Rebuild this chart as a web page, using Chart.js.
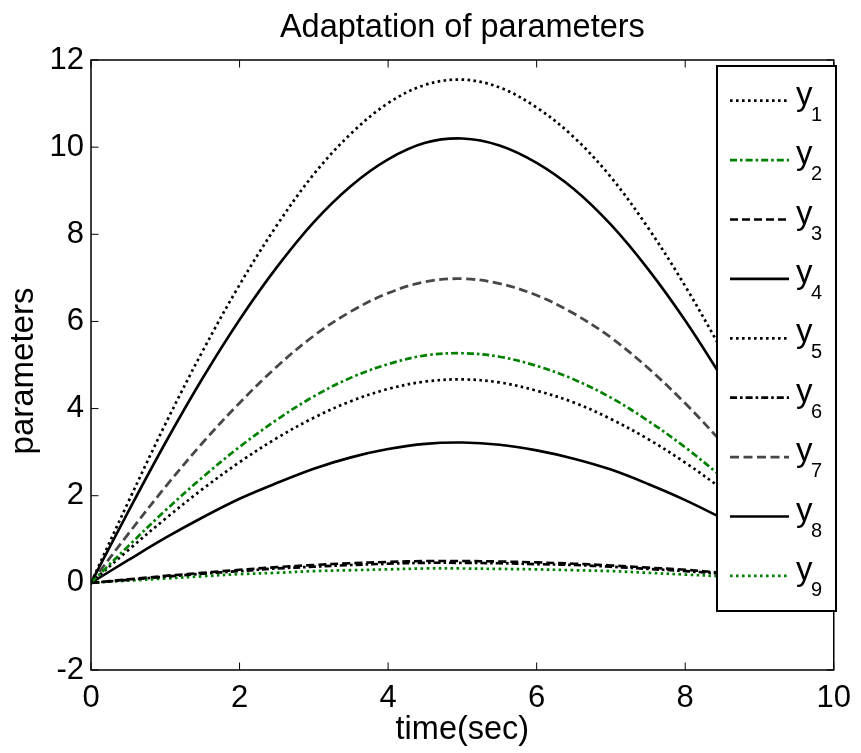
<!DOCTYPE html>
<html>
<head>
<meta charset="utf-8">
<script src="https://cdn.jsdelivr.net/npm/chart.js@4.4.1/dist/chart.umd.min.js"></script>
<style>
  html, body { margin: 0; padding: 0; background: #fff; }
  #wrap { width: 861px; height: 753px; }
</style>
</head>
<body>
<div id="wrap"><canvas id="myChart" width="861" height="753"></canvas></div>
<script>
var FONT = "'Liberation Sans', Arial, Helvetica, sans-serif";

var times = [0, 0.5, 1, 1.5, 2, 2.5, 3, 3.5, 4, 4.5, 5, 5.5, 6, 6.5, 7, 7.5, 8, 8.5, 9, 9.5, 10];
var xTicks = [0, 2, 4, 6, 8, 10];
var yTicks = [-2, 0, 2, 4, 6, 8, 10, 12];

var y1 = [0, 1.85, 3.64, 5.31, 6.84, 8.20, 9.38, 10.31, 11.01, 11.43, 11.55, 11.37, 10.91, 10.23, 9.31, 8.15, 6.81, 5.31, 3.70, 1.94, 0.12];
var y2 = [0, 0.84, 1.66, 2.42, 3.12, 3.74, 4.28, 4.71, 5.02, 5.22, 5.27, 5.19, 4.98, 4.67, 4.25, 3.72, 3.11, 2.42, 1.69, 0.89, 0.05];
var y3 = [0, 0.08, 0.16, 0.23, 0.30, 0.36, 0.41, 0.45, 0.48, 0.50, 0.50, 0.49, 0.47, 0.44, 0.40, 0.35, 0.30, 0.23, 0.16, 0.08, 0.01];
var y4 = [0, 1.63, 3.21, 4.69, 6.04, 7.24, 8.28, 9.11, 9.72, 10.10, 10.20, 10.04, 9.64, 9.04, 8.22, 7.20, 6.02, 4.69, 3.26, 1.71, 0.10];
var y5 = [0, 0.75, 1.47, 2.15, 2.77, 3.32, 3.79, 4.17, 4.45, 4.62, 4.67, 4.60, 4.41, 4.14, 3.76, 3.30, 2.76, 2.15, 1.49, 0.79, 0.05];
var y6 = [0, 0.07, 0.14, 0.21, 0.27, 0.33, 0.37, 0.41, 0.44, 0.46, 0.46, 0.45, 0.43, 0.41, 0.37, 0.32, 0.27, 0.21, 0.15, 0.08, 0.00];
var y7 = [0, 1.12, 2.20, 3.21, 4.13, 4.96, 5.67, 6.23, 6.65, 6.91, 6.98, 6.87, 6.60, 6.18, 5.63, 4.93, 4.12, 3.21, 2.23, 1.17, 0.07];
var y8 = [0, 0.52, 1.03, 1.50, 1.93, 2.29, 2.62, 2.88, 3.07, 3.19, 3.22, 3.17, 3.04, 2.85, 2.60, 2.27, 1.90, 1.48, 1.03, 0.54, 0.03];
var y9 = [0, 0.05, 0.10, 0.15, 0.20, 0.23, 0.27, 0.29, 0.31, 0.33, 0.33, 0.32, 0.31, 0.29, 0.27, 0.23, 0.19, 0.15, 0.11, 0.06, 0.05];

var seriesValues = [y1, y2, y3, y4, y5, y6, y7, y8, y9];
var seriesNames = ["1", "2", "3", "4", "5", "6", "7", "8", "9"];

var GREEN = "#008000";
var GRAY = "#474747";
var styles = [
    { color: "#000", dash: [2.6, 3.4], width: 2.7 },
    { color: GREEN, dash: [7, 3, 2.6, 3], width: 2.7 },
    { color: "#000", dash: [8, 4], width: 2.6 },
    { color: "#000", dash: [], width: 2.6 },
    { color: "#000", dash: [2.6, 3.4], width: 2.7 },
    { color: "#000", dash: [7, 3, 2.6, 3], width: 2.7 },
    { color: GRAY, dash: [9, 4.5], width: 2.8 },
    { color: "#000", dash: [], width: 2.6 },
    { color: GREEN, dash: [2.6, 3.4], width: 2.7 }
];

function points(vals) {
    return times.map(function (t, i) { return { x: t, y: vals[i] }; });
}

var datasets = seriesValues.map(function (vals, i) {
    return {
        label: "y" + seriesNames[i],
        data: points(vals),
        borderColor: styles[i].color,
        borderDash: styles[i].dash,
        borderWidth: styles[i].width,
        pointRadius: 0,
        tension: 0.35,
        fill: false
    };
});

// box, inward ticks, title, axis labels and the MATLAB-like legend
var matlabPlugin = {
    id: "matlab",
    afterDatasetsDraw: function (chart) {
        var ctx = chart.ctx, a = chart.chartArea;
        var xs = chart.scales.x, ys = chart.scales.y;
        ctx.save();
        ctx.strokeStyle = "#000";
        ctx.lineWidth = 1.5;
        ctx.setLineDash([]);
        ctx.strokeRect(a.left, a.top, a.right - a.left, a.bottom - a.top);
        var tl = 7.5;
        ctx.lineWidth = 1;
        ctx.beginPath();
        xTicks.forEach(function (v) {
            var px = xs.getPixelForValue(v);
            ctx.moveTo(px, a.bottom); ctx.lineTo(px, a.bottom - tl);
            ctx.moveTo(px, a.top); ctx.lineTo(px, a.top + tl);
        });
        yTicks.forEach(function (v) {
            var py = ys.getPixelForValue(v);
            ctx.moveTo(a.left, py); ctx.lineTo(a.left + tl, py);
            ctx.moveTo(a.right, py); ctx.lineTo(a.right - tl, py);
        });
        ctx.stroke();

        // legend
        var lx = 717, ly = 66, lw = 119, lh = 545;
        ctx.fillStyle = "#fff";
        ctx.fillRect(lx, ly, lw, lh);
        ctx.lineWidth = 2;
        ctx.strokeStyle = "#000";
        ctx.strokeRect(lx, ly, lw, lh);
        datasets.forEach(function (ds, i) {
            var cy = 100.7 + i * 59.4;
            ctx.save();
            ctx.strokeStyle = ds.borderColor;
            ctx.lineWidth = ds.borderWidth;
            ctx.setLineDash(ds.borderDash);
            ctx.beginPath();
            ctx.moveTo(730, cy);
            ctx.lineTo(789, cy);
            ctx.stroke();
            ctx.restore();
            ctx.fillStyle = "#000";
            ctx.textAlign = "left";
            ctx.textBaseline = "alphabetic";
            ctx.font = "33px " + FONT;
            ctx.fillText("y", 796, cy + 4);
            ctx.font = "20px " + FONT;
            ctx.fillText(seriesNames[i], 811, cy + 20);
        });

        // title and axis labels
        ctx.fillStyle = "#000";
        ctx.textAlign = "center";
        ctx.textBaseline = "alphabetic";
        ctx.font = "32.5px " + FONT;
        ctx.fillText("Adaptation of parameters", (a.left + a.right) / 2, 37);
        ctx.font = "32.5px " + FONT;
        ctx.fillText("time(sec)", (a.left + a.right) / 2, 739);
        ctx.save();
        ctx.translate(33, 371);
        ctx.rotate(-Math.PI / 2);
        ctx.font = "33px " + FONT;
        ctx.fillText("parameters", 0, 0);
        ctx.restore();
        ctx.restore();
    }
};

var config = {
    type: "line",
    data: { datasets: datasets },
    options: {
        responsive: false,
        animation: false,
        devicePixelRatio: 1,
        layout: { padding: { top: 60, right: 23, left: 0, bottom: 0 } },
        plugins: {
            legend: { display: false },
            title: { display: false },
            tooltip: { enabled: false }
        },
        scales: {
            x: {
                type: "linear",
                min: 0,
                max: 10,
                afterFit: function (scale) { scale.height = 83; },
                afterBuildTicks: function (scale) {
                    scale.ticks = xTicks.map(function (v) { return { value: v }; });
                },
                grid: { display: false, drawTicks: false },
                border: { display: false },
                ticks: { color: "#000", padding: 10, maxRotation: 0, font: { family: FONT, size: 31 } }
            },
            y: {
                type: "linear",
                min: -2,
                max: 12,
                afterFit: function (scale) { scale.width = 91; },
                afterBuildTicks: function (scale) {
                    scale.ticks = yTicks.map(function (v) { return { value: v }; });
                },
                grid: { display: false, drawTicks: false },
                border: { display: false },
                ticks: { color: "#000", padding: 7, font: { family: FONT, size: 31 } }
            }
        }
    },
    plugins: [matlabPlugin]
};

window.onload = function () {
    var ctx = document.getElementById("myChart");
    window.myLine = new Chart(ctx, config);
};
</script>
</body>
</html>
